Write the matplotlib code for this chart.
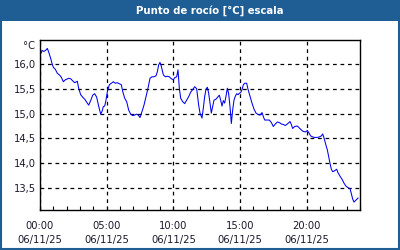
import matplotlib
matplotlib.use("Agg")
import matplotlib.pyplot as plt
from matplotlib.patches import Rectangle
from matplotlib.ticker import MultipleLocator, FixedLocator

matplotlib.rcParams["font.family"] = "DejaVu Sans"

# hours since 00:00 on 06/11/25
hours = [
    0.10, 0.15, 0.30, 0.45, 0.55, 0.65, 0.80, 0.90, 1.00, 1.15, 1.30, 1.45,
    1.60, 1.75, 1.90, 2.00, 2.15, 2.30, 2.45, 2.60, 2.80, 2.90, 3.05, 3.20,
    3.35, 3.50, 3.65, 3.80, 3.95, 4.10, 4.25, 4.40, 4.55, 4.65, 4.75, 4.85,
    4.95, 5.05, 5.20, 5.35, 5.50, 5.65, 5.80, 5.95, 6.10, 6.20, 6.35, 6.50,
    6.65, 6.80, 6.95, 7.10, 7.25, 7.40, 7.50, 7.65, 7.80, 7.95, 8.10, 8.25,
    8.40, 8.55, 8.70, 8.80, 8.90, 9.00, 9.10, 9.25, 9.40, 9.55, 9.70, 9.85,
    10.00, 10.10, 10.25, 10.35, 10.45, 10.55, 10.70, 10.85, 11.00, 11.15,
    11.30, 11.50, 11.60, 11.75, 11.90, 12.00, 12.15, 12.25, 12.35, 12.45,
    12.55, 12.65, 12.75, 12.85, 12.95, 13.05, 13.20, 13.35, 13.45, 13.55,
    13.65, 13.75, 13.85, 13.95, 14.05, 14.15, 14.25, 14.35, 14.45, 14.55,
    14.65, 14.75, 14.85, 14.95, 15.05, 15.15, 15.25, 15.35, 15.50, 15.60,
    15.75, 15.90, 16.05, 16.20, 16.35, 16.50, 16.65, 16.75, 16.85, 17.05,
    17.20, 17.35, 17.50, 17.65, 17.80, 17.95, 18.10, 18.25, 18.40, 18.55,
    18.75, 18.85, 18.95, 19.10, 19.30, 19.45, 19.60, 19.75, 19.90, 20.05,
    20.15, 20.30, 20.45, 20.60, 20.80, 20.95, 21.10, 21.20, 21.30, 21.45,
    21.55, 21.65, 21.75, 21.85, 21.95, 22.10, 22.25, 22.35, 22.50, 22.65,
    22.80, 22.95, 23.10, 23.25, 23.35, 23.45, 23.55, 23.70, 23.85,
]
dew_point = [
    16.22, 16.27, 16.25, 16.28, 16.31, 16.24, 16.11, 16.01, 15.93, 15.89, 15.81, 15.78,
    15.73, 15.64, 15.68, 15.69, 15.71, 15.70, 15.66, 15.62, 15.65, 15.51, 15.38, 15.33,
    15.29, 15.23, 15.17, 15.26, 15.37, 15.40, 15.33, 15.15, 14.99, 15.04, 15.14, 15.15,
    15.27, 15.44, 15.58, 15.61, 15.64, 15.61, 15.62, 15.60, 15.58, 15.45, 15.31, 15.24,
    15.07, 14.99, 14.96, 14.97, 14.99, 14.96, 14.92, 15.04, 15.17, 15.34, 15.51, 15.71,
    15.74, 15.74, 15.76, 15.84, 15.98, 16.03, 15.95, 15.78, 15.74, 15.75, 15.74, 15.70,
    15.68, 15.72, 15.74, 15.88, 15.51, 15.31, 15.24, 15.20, 15.27, 15.34,
    15.43, 15.50, 15.54, 15.50, 15.17, 15.01, 14.91, 15.11, 15.34, 15.49,
    15.53, 15.41, 15.21, 15.01, 15.14, 15.27, 15.29, 15.34, 15.37, 15.27,
    15.15, 15.26, 15.21, 15.35, 15.51, 15.40, 15.14, 14.80, 15.07, 15.27,
    15.35, 15.40, 15.38, 15.41, 15.42, 15.48, 15.58, 15.61, 15.61, 15.49,
    15.35, 15.21, 15.09, 15.01, 14.98, 14.97, 15.02, 14.94, 14.87, 14.87,
    14.87, 14.82, 14.74, 14.79, 14.83, 14.82, 14.79, 14.78, 14.76, 14.79,
    14.84, 14.78, 14.70, 14.74, 14.75, 14.71, 14.67, 14.64, 14.63, 14.66,
    14.62, 14.55, 14.53, 14.52, 14.52, 14.53, 14.55, 14.59, 14.51, 14.36,
    14.27, 14.13, 14.00, 13.88, 13.83, 13.85, 13.88, 13.81, 13.74, 13.68,
    13.60, 13.54, 13.51, 13.49, 13.39, 13.28, 13.22, 13.26, 13.30,
]

x_ticks = [0, 5, 10, 15, 20]
x_labels = ["00:00\n06/11/25", "05:00\n06/11/25", "10:00\n06/11/25",
            "15:00\n06/11/25", "20:00\n06/11/25"]
y_ticks = [13.5, 14.0, 14.5, 15.0, 15.5, 16.0]
y_labels = ["13,5", "14,0", "14,5", "15,0", "15,5", "16,0"]

frame_blue = "#1f5e94"
text_col = "#1a1a2e"

fig = plt.figure(figsize=(4, 2.5), dpi=100)
fig.patch.set_facecolor("white")

# title bar and outer frame
fig.add_artist(Rectangle((0, 0.918), 1, 0.082, transform=fig.transFigure,
                         facecolor=frame_blue, edgecolor="none"))
fig.add_artist(Rectangle((0.0025, 0.004), 0.995, 0.992, transform=fig.transFigure,
                         facecolor="none", edgecolor=frame_blue, linewidth=1.5))
fig.text(0.525, 0.958, "Punto de rocío [°C] escala", color="white",
         fontsize=7.3, fontweight="bold", ha="center", va="center")

ax = fig.add_axes([0.1, 0.16, 0.8, 0.68])
ax.plot(hours, dew_point, color="#0000ee", linewidth=0.75)

ax.set_xlim(0, 24)
ax.set_ylim(13.06, 16.48)
ax.xaxis.set_major_locator(FixedLocator(x_ticks))
ax.xaxis.set_minor_locator(MultipleLocator(1))
ax.set_xticklabels(x_labels, linespacing=1.45)
ax.set_yticks(y_ticks)
ax.set_yticklabels(y_labels)
ax.tick_params(axis="x", which="both", direction="in", length=3, width=0.8,
               labelsize=7.2, pad=8, color="black", labelcolor=text_col)
ax.tick_params(axis="y", length=0, labelsize=7.2, pad=3, labelcolor=text_col)
ax.grid(True, which="major", color="black", linestyle=(0, (3, 3)), linewidth=0.9)
for s in ax.spines.values():
    s.set_linewidth(1.0)
    s.set_color("black")

ax.text(-0.015, 0.965, "°C", transform=ax.transAxes, ha="right", va="center",
        fontsize=7.2, color=text_col)

fig.savefig("out.png", dpi=100)
plt.close()
